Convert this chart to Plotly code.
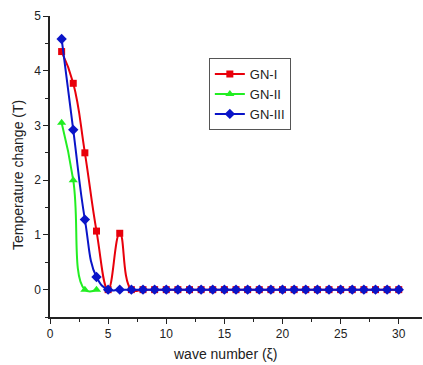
import plotly.graph_objects as go

x_gn1 = list(range(1, 31))
y_gn1 = [4.35, 3.77, 2.5, 1.07, 0.0, 1.03, 0.0] + [0.0] * 23
x_gn2 = [1, 2, 3, 4]
y_gn2 = [3.05, 2.0, 0.0, 0.0]
x_gn3 = list(range(1, 31))
y_gn3 = [4.58, 2.92, 1.28, 0.23] + [0.0] * 26

W, H = 423, 365
l, r, t, b = 50, 1, 16, 48
pw, ph = W - l - r, H - t - b
def px(xp):
    return (xp - l) / pw
def py(yp):
    return (H - b - yp) / ph

fig = go.Figure()
fig.add_trace(go.Scatter(x=x_gn1, y=y_gn1, name="GN-I", mode="lines+markers",
                         line=dict(color="#e8000b", width=2, shape="spline", smoothing=1.3),
                         marker=dict(symbol="square", size=7, color="#e8000b")))
fig.add_trace(go.Scatter(x=x_gn2, y=y_gn2, name="GN-II", mode="lines+markers",
                         line=dict(color="#22ee22", width=2, shape="spline", smoothing=1.3),
                         marker=dict(symbol="triangle-up", size=8, color="#22ee22")))
fig.add_trace(go.Scatter(x=x_gn3, y=y_gn3, name="GN-III", mode="lines+markers",
                         line=dict(color="#0a14c8", width=2, shape="spline", smoothing=1.3),
                         marker=dict(symbol="diamond", size=8, color="#0a14c8")))

fig.update_layout(
    width=W, height=H,
    margin=dict(l=l, r=r, t=t, b=b),
    paper_bgcolor="white", plot_bgcolor="white",
    font=dict(family="Liberation Sans, Arial, sans-serif", size=12, color="#222"),
    showlegend=True,
    legend=dict(x=0.427, y=0.86, xanchor="left", yanchor="top",
                bordercolor="#555", borderwidth=1, bgcolor="white",
                font=dict(size=13), tracegroupgap=0, itemwidth=30),
    xaxis=dict(range=[0, 32], tickvals=[0, 5, 10, 15, 20, 25, 30],
               ticks="outside", ticklen=5, tickcolor="#222",
               showline=True, linecolor="#222", linewidth=1.5, showgrid=False, zeroline=False,
               minor=dict(tickvals=[2.5, 7.5, 12.5, 17.5, 22.5, 27.5], ticks="outside", ticklen=3, tickcolor="#222")),
    yaxis=dict(range=[-0.5, 5], tickvals=[0, 1, 2, 3, 4, 5],
               ticks="outside", ticklen=5, tickcolor="#222",
               showline=True, linecolor="#222", linewidth=1.5, showgrid=False, zeroline=False,
               minor=dict(tickvals=[-0.5, 0.5, 1.5, 2.5, 3.5, 4.5], ticks="outside", ticklen=3, tickcolor="#222")),
    annotations=[
        dict(text="wave number (ξ)", x=px(225), y=py(354), xref="paper", yref="paper",
             xanchor="center", yanchor="middle", showarrow=False, font=dict(size=14)),
        dict(text="Temperature change (T)", x=px(18), y=py(175), xref="paper", yref="paper",
             xanchor="center", yanchor="middle", showarrow=False, textangle=-90,
             font=dict(size=14)),
    ],
)
fig.write_html("out.html")
